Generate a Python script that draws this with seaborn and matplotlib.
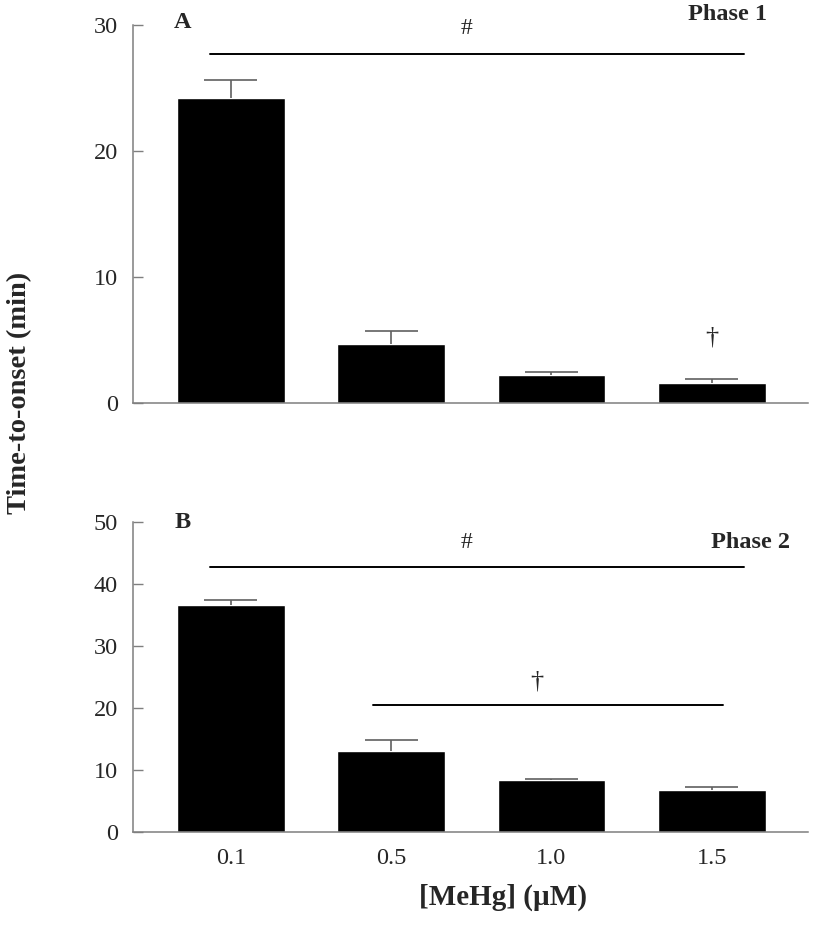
import matplotlib
matplotlib.use("Agg")
import matplotlib.pyplot as plt
import seaborn as sns
import pandas as pd

# concentrations of MeHg (uM)
doses = ["0.1", "0.5", "1.0", "1.5"]

# Phase 1 time-to-onset (min), mean and upper error
phase1_mean = [24.2, 4.7, 2.2, 1.6]
phase1_err = [1.4, 1.0, 0.25, 0.3]

# Phase 2 time-to-onset (min), mean and upper error
phase2_mean = [36.7, 13.1, 8.4, 6.8]
phase2_err = [0.8, 1.7, 0.1, 0.5]

sns.set_style("ticks")
plt.rcParams["font.family"] = ["Liberation Serif", "DejaVu Serif"]

fig = plt.figure(figsize=(8.15, 9.3), dpi=100)
axA = fig.add_axes([0.1632, 0.5667, 0.8282, 0.4065])
axB = fig.add_axes([0.1632, 0.1057, 0.8282, 0.3327])

axis_grey = "#7f7f7f"
err_grey = "#606060"


def draw_panel(ax, means, errs, ymax, step):
    df = pd.DataFrame({"dose": doses, "time": means})
    sns.barplot(data=df, x="dose", y="time", color="black", width=0.67,
                saturation=1, ax=ax, errorbar=None)
    xs = [p.get_x() + p.get_width() / 2 for p in ax.patches]
    tops = [m + e for m, e in zip(means, errs)]
    # upper-only error bars: stem + cap
    ax.vlines(xs, means, tops, color=err_grey, lw=1.2, zorder=1)
    ax.hlines(tops, [x - 0.165 for x in xs], [x + 0.165 for x in xs],
              color=err_grey, lw=1.2, zorder=1)
    ax.set_xlim(-0.61, 3.60)
    ax.set_ylim(0, ymax)
    ax.set_yticks(range(0, ymax + 1, step))
    ax.tick_params(axis="y", direction="in", length=7, width=1,
                   color=axis_grey, labelsize=17.5, pad=11)
    ax.tick_params(axis="x", length=0, labelsize=17.5, pad=12)
    for s in ["top", "right"]:
        ax.spines[s].set_visible(False)
    for s in ["left", "bottom"]:
        ax.spines[s].set_color(axis_grey)
        ax.spines[s].set_linewidth(1.1)
    ax.set_xlabel("")
    ax.set_ylabel("")


draw_panel(axA, phase1_mean, phase1_err, 30, 10)
draw_panel(axB, phase2_mean, phase2_err, 50, 10)
axA.set_xticklabels([])

# panel A annotations
axA.plot([-0.128, 3.20], [27.7, 27.7], color="black", lw=1.4, clip_on=False)
axA.text(1.47, 29.7, "#", ha="center", va="center", fontsize=17)
axA.text(3.0, 5.2, "†", ha="center", va="center", fontsize=19)
axA.text(-0.30, 30.2, "A", ha="center", va="center", fontsize=17.5,
         fontweight="bold", clip_on=False)
axA.text(3.10, 30.8, "Phase 1", ha="center", va="center", fontsize=17.5,
         fontweight="bold", clip_on=False)

# panel B annotations
axB.plot([-0.128, 3.20], [42.7, 42.7], color="black", lw=1.4)
axB.plot([0.889, 3.07], [20.5, 20.5], color="black", lw=1.4)
axB.text(1.47, 46.8, "#", ha="center", va="center", fontsize=17)
axB.text(1.91, 24.2, "†", ha="center", va="center", fontsize=19)
axB.text(-0.30, 50.0, "B", ha="center", va="center", fontsize=17.5,
         fontweight="bold", clip_on=False)
axB.text(3.24, 46.8, "Phase 2", ha="center", va="center", fontsize=17.5,
         fontweight="bold")

fig.text(0.024, 1 - 393 / 930, "Time-to-onset (min)", rotation=90,
         ha="center", va="center", fontsize=20.5, fontweight="bold")
fig.text(0.617, 1 - 897 / 930, "[MeHg] (µM)", ha="center", va="center",
         fontsize=21, fontweight="bold")

fig.savefig("out.png", dpi=100)
